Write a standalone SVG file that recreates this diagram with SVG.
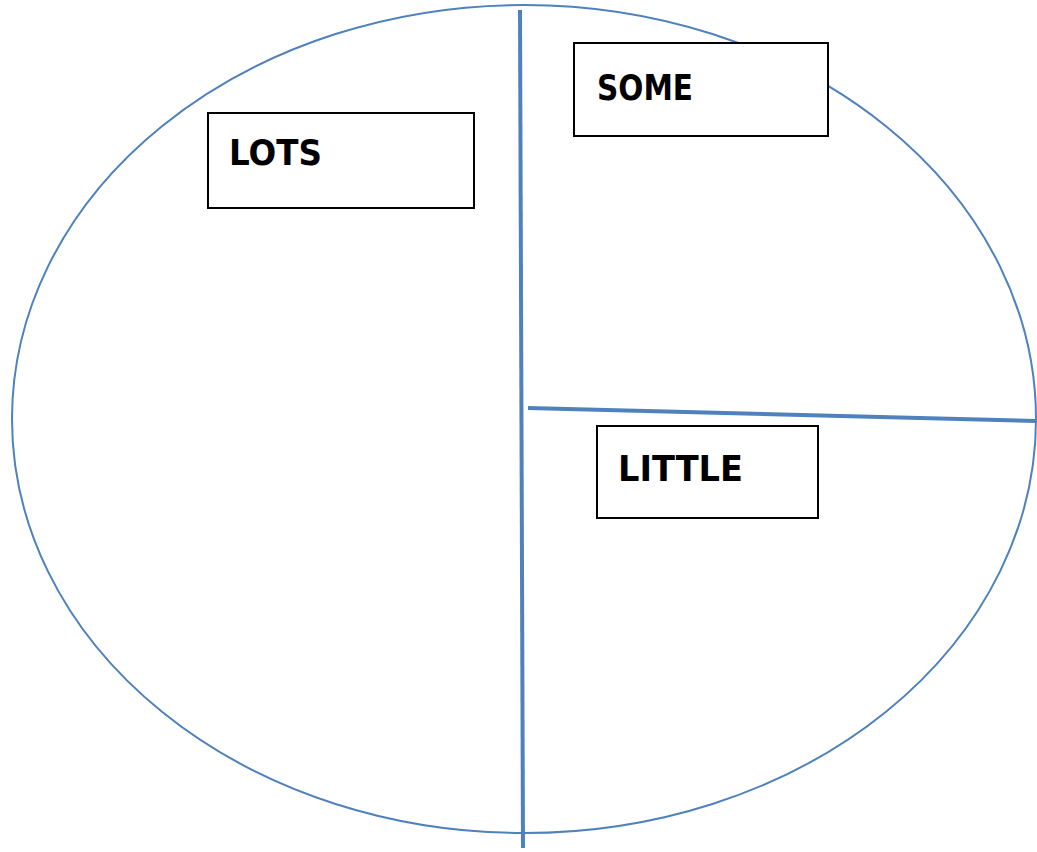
<svg xmlns="http://www.w3.org/2000/svg" width="1037" height="852" viewBox="0 0 1037 852">
<style>
.box{fill:#fff;stroke:#000;stroke-width:2}
.lbl{font-family:"Comic Sans MS","DejaVu Sans",sans-serif;font-weight:bold;font-size:35px;fill:#000}
.div{stroke:#4f81bd;stroke-width:4;fill:none;stroke-linecap:butt}
</style>
<rect width="1037" height="852" fill="#fff"/>
<g id="circle">
<ellipse cx="524" cy="419" rx="512" ry="414" fill="none" stroke="#4f81bd" stroke-width="2"/>
</g>
<g id="connectors">
<line class="div" x1="520" y1="10" x2="523" y2="848"/>
<line class="div" x1="528" y1="408" x2="1037" y2="421"/>
</g>
<g id="lots">
<rect class="box" x="208" y="113" width="266" height="95"/>
<text class="lbl" x="229" y="165" textLength="93" lengthAdjust="spacingAndGlyphs">LOTS</text>
</g>
<g id="some">
<rect class="box" x="574" y="43" width="254" height="93"/>
<text class="lbl" x="597" y="100" textLength="96" lengthAdjust="spacingAndGlyphs">SOME</text>
</g>
<g id="little">
<rect class="box" x="597" y="426" width="221" height="92"/>
<text class="lbl" x="618" y="481" textLength="125" lengthAdjust="spacingAndGlyphs">LITTLE</text>
</g>
</svg>
